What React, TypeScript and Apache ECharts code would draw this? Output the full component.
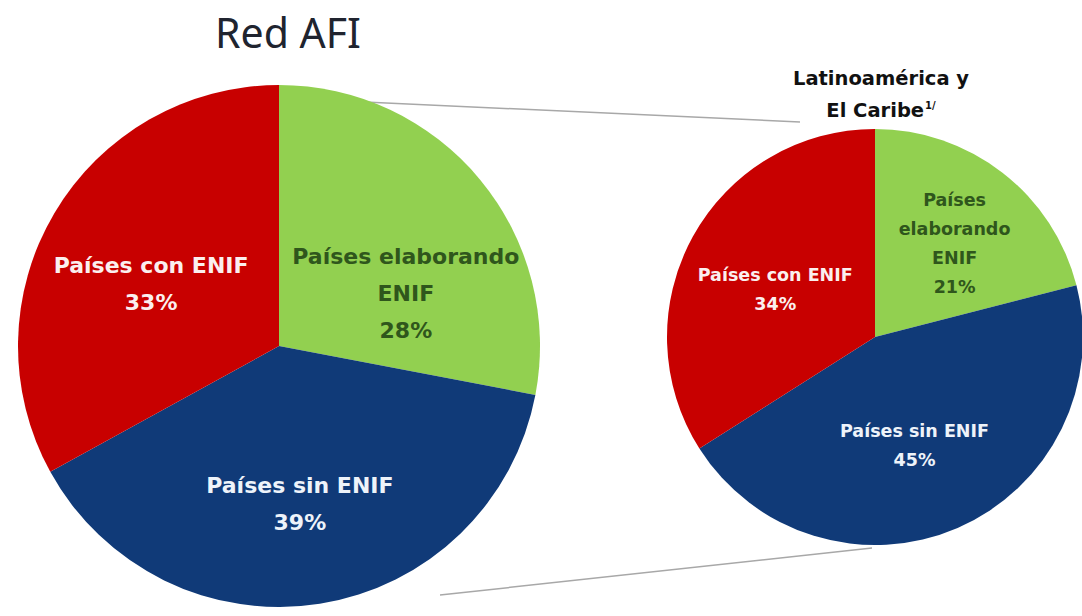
import React, { useEffect, useRef } from "react";
import * as echarts from "echarts";

const categories = ["Países elaborando ENIF", "Países sin ENIF", "Países con ENIF"];
const redAfiValues = [28, 39, 33];
const latamValues = [21, 45, 34];
const redAfiLabels = ["Países elaborando\nENIF", "Países sin ENIF", "Países con ENIF"];
const latamLabels = ["Países\nelaborando\nENIF", "Países sin ENIF", "Países con ENIF"];
const sliceColors = ["#92D050", "#103A78", "#C80000"];
const labelColors = ["#2F561C", "#EEF3FA", "#FBEFEF"];
const leftTitle = "Red AFI";
const rightTitleLines = ["Latinoamérica y", "El Caribe"];
const rightTitleNote = "1/";

const leftOffsets = [[24, 33], [0, 26], [-13, 6]];
const rightOffsets = [[14, -9], [-3, 10], [-6, 4]];

function buildData(values: number[], labels: string[], fontSize: number, lineHeight: number) {
  return values.map((v, i) => ({
    name: categories[i],
    value: v,
    itemStyle: { color: sliceColors[i] },
    label: {
      formatter: labels[i] + "\n" + v + "%",
      color: labelColors[i],
      fontSize,
      lineHeight,
    },
  }));
}

export default function App() {
  const ref = useRef<HTMLDivElement>(null);
  useEffect(() => {
    document.body.style.margin = "0";
    const chart = echarts.init(ref.current!, null, { renderer: "svg" });
    chart.setOption({
      animation: false,
      backgroundColor: "#ffffff",
      title: [
        {
          text: leftTitle,
          left: 283,
          top: 6,
          textAlign: "center",
          textStyle: {
            fontFamily: "Noto Sans",
            fontWeight: "normal",
            fontSize: 41,
            color: "#20242F",
          },
        },
        {
          text: "{b|" + rightTitleLines[0] + "}\n{b|" + rightTitleLines[1] + "}{s|" + rightTitleNote + "}",
          left: 876,
          top: 57,
          textAlign: "center",
          textStyle: {
            rich: {
              b: {
                fontFamily: "DejaVu Sans",
                fontWeight: "bold",
                fontSize: 19.5,
                lineHeight: 32,
                color: "#111111",
              },
              s: {
                fontFamily: "DejaVu Sans",
                fontWeight: "bold",
                fontSize: 10,
                lineHeight: 32,
                verticalAlign: "top",
                padding: [6, 0, 0, 1],
                color: "#111111",
              },
            },
          },
        },
      ],
      graphic: [
        {
          type: "line",
          z: 0,
          shape: { x1: 300, y1: 99, x2: 800, y2: 122 },
          style: { stroke: "#A8A8A8", lineWidth: 1.5 },
        },
        {
          type: "line",
          z: 0,
          shape: { x1: 440, y1: 595, x2: 872, y2: 548 },
          style: { stroke: "#A8A8A8", lineWidth: 1.5 },
        },
      ],
      series: [
        {
          type: "pie",
          z: 5,
          center: [279, 346],
          radius: [0, 261],
          startAngle: 90,
          clockwise: true,
          avoidLabelOverlap: false,
          label: {
            show: true,
            position: "inside",
            fontFamily: "DejaVu Sans",
            fontWeight: "bold",
          },
          labelLine: { show: false },
          labelLayout: (p: any) => ({ dx: leftOffsets[p.dataIndex][0], dy: leftOffsets[p.dataIndex][1] }),
          itemStyle: { borderWidth: 0 },
          emphasis: { disabled: true },
          data: buildData(redAfiValues, redAfiLabels, 22, 37),
        },
        {
          type: "pie",
          z: 5,
          center: [875, 337],
          radius: [0, 208],
          startAngle: 90,
          clockwise: true,
          avoidLabelOverlap: false,
          label: {
            show: true,
            position: "inside",
            fontFamily: "DejaVu Sans",
            fontWeight: "bold",
          },
          labelLine: { show: false },
          labelLayout: (p: any) => ({ dx: rightOffsets[p.dataIndex][0], dy: rightOffsets[p.dataIndex][1] }),
          itemStyle: { borderWidth: 0 },
          emphasis: { disabled: true },
          data: buildData(latamValues, latamLabels, 17.5, 29),
        },
      ],
    });
    return () => chart.dispose();
  }, []);
  return <div ref={ref} style={{ width: 1082, height: 616 }} />;
}
